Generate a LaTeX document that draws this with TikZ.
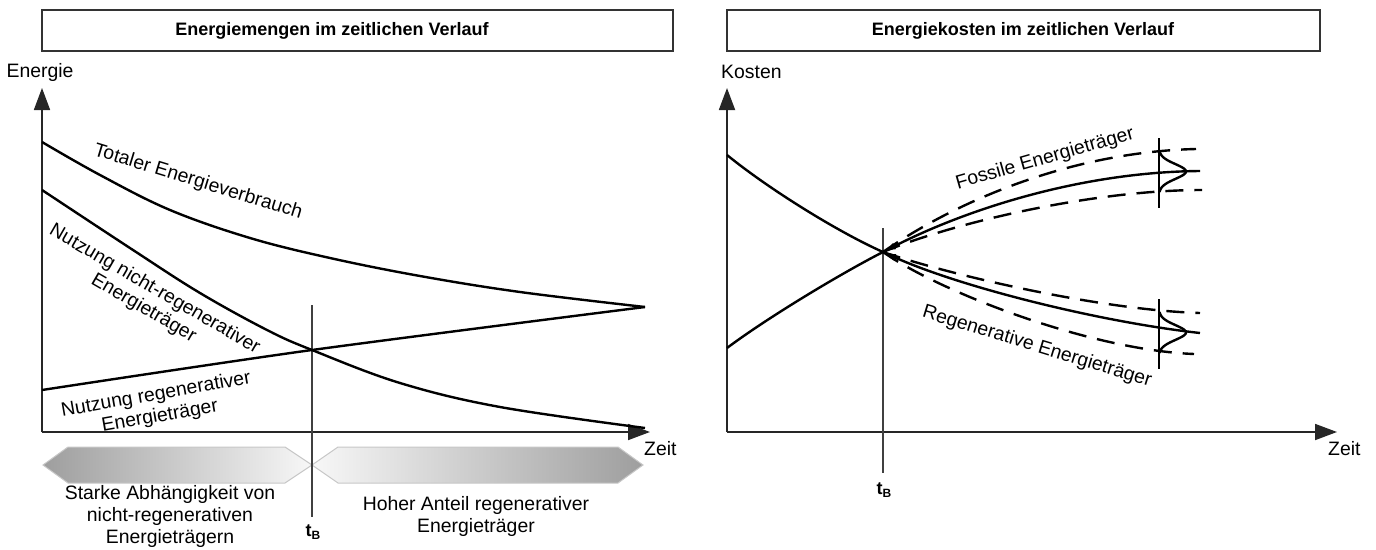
\documentclass[tikz,border=0pt]{standalone}
\usepackage{fontspec}
\setmainfont{Liberation Sans}
\usetikzlibrary{arrows.meta}
\begin{document}
\begin{tikzpicture}[x=1pt,y=-1pt,
  every node/.style={font=\fontsize{19.4}{22}\selectfont, inner sep=0pt},
  axis/.style={draw=black!85, line width=1.8pt, -{Triangle[length=22pt,width=16pt]}},
  curve/.style={draw=black, line width=2.4pt},
  dcurve/.style={curve, dash pattern=on 18pt off 11pt},
  tline/.style={draw=black!75, line width=1.5pt},
  titlebox/.style={draw=black!80, line width=1.5pt, fill=white},
  titletext/.style={font=\fontsize{18}{22}\selectfont\bfseries},
  lbl/.style={align=center},
  band/.style={draw=black!22, line width=1pt},
  tb/.style={font=\fontsize{18}{22}\selectfont\bfseries},
]
\useasboundingbox (0,0) rectangle (1376,549);

% ---------- left panel: energy amounts ----------
\draw[titlebox] (42,10) rectangle (673,51);
\node[titletext] (titleL) at (332,31) {Energiemengen im zeitlichen Verlauf};
\node (energie) at (40,72) {Energie};

\coordinate (oL) at (42,432);
\coordinate (yL) at (42,88);
\coordinate (xL) at (650,432);
\draw[axis] (oL) -- (yL);
\draw[axis] (oL) -- (xL);
\node[anchor=west] (zeitL) at (644,449) {Zeit};

% band arrows below the time axis
\path[band, left color=black!38, right color=black!3]
  (43,465) -- (68,447) -- (285,447) -- (312,465) -- (285,483) -- (68,483) -- cycle;
\path[band, left color=black!3, right color=black!38]
  (312,465) -- (338,447) -- (618,447) -- (643,465) -- (618,483) -- (338,483) -- cycle;

% t_B marker
\coordinate (tBtopL) at (312,305);
\coordinate (tBbotL) at (312,517);
\draw[tline] (tBtopL) -- (tBbotL);
\node[tb] (tBL) at (313,532) {t\raisebox{-0.35ex}{\fontsize{12}{12}\selectfont B}};

% curves
\draw[curve] plot[smooth, tension=0.6] coordinates
  {(42,142) (100,175) (170,210) (250,238) (330,258) (420,276) (520,292) (645,307)};
\draw[curve] plot[smooth, tension=0.6] coordinates
  {(42,190) (133,250) (200,293) (267,330) (312,350) (400,383) (500,407) (645,428)};
\draw[curve] plot[smooth, tension=0.5] coordinates
  {(42,390) (312,350) (645,307)};

\node[rotate=-17] (total) at (198,182) {Totaler Energieverbrauch};
\node[lbl, rotate=-30] (nonreg) at (149,299) {Nutzung nicht-regenerativer\\Energieträger};
\node[lbl, rotate=10] (reg) at (158,406) {Nutzung regenerativer\\Energieträger};

\node[lbl] (starke) at (170,516) {Starke Abhängigkeit von\\nicht-regenerativen\\Energieträgern};
\node[lbl] (hoher) at (476,516) {Hoher Anteil regenerativer\\Energieträger};

% ---------- right panel: energy costs ----------
\draw[titlebox] (727,10) rectangle (1320,51);
\node[titletext] (titleR) at (1023,31) {Energiekosten im zeitlichen Verlauf};
\node[anchor=west] (kosten) at (721,72) {Kosten};

\coordinate (oR) at (727,432);
\coordinate (yR) at (727,88);
\coordinate (xR) at (1337,432);
\draw[axis] (oR) -- (yR);
\draw[axis] (oR) -- (xR);
\node[anchor=west] (zeitR) at (1328,449) {Zeit};

\coordinate (tBtopR) at (883,228);
\coordinate (tBbotR) at (883,473);
\draw[tline] (tBtopR) -- (tBbotR);
\node[tb] (tBR) at (884,490) {t\raisebox{-0.35ex}{\fontsize{12}{12}\selectfont B}};

\coordinate (c) at (883,252);
% costs up to t_B
\draw[curve] (727,155) .. controls (770,190) and (840,233) .. (c);
\draw[curve] (727,348) .. controls (767,318) and (840,274) .. (c);

% fossil fuels: expected path and band
\draw[curve, {Latex[length=13pt,width=7pt]}-] (c) .. controls (965,210) and (1080,172) .. (1200,171);
\draw[dcurve] (c) .. controls (955,202) and (1070,152) .. (1196,149);
\draw[dcurve] (c) .. controls (950,224) and (1090,190) .. (1202,190);
\draw[curve] (1159,138) -- (1159,208);
\draw[curve] plot[domain=151:192, samples=40]
  ({1159+27*exp(-(\x-171.5)*(\x-171.5)/110)}, \x);

% renewable fuels: expected path and band
\draw[curve, {Latex[length=13pt,width=7pt]}-] (c) .. controls (960,287) and (1100,322) .. (1200,333);
\draw[dcurve] (c) .. controls (950,275) and (1100,310) .. (1200,313);
\draw[dcurve] (c) .. controls (940,292) and (1090,350) .. (1194,354);
\draw[curve] (1159,299) -- (1159,369);
\draw[curve] plot[domain=312:353, samples=40]
  ({1159+27*exp(-(\x-332.5)*(\x-332.5)/110)}, \x);

\node[rotate=16] (fossil) at (1045,159) {Fossile Energieträger};
\node[rotate=-17] (regen) at (1037,347) {Regenerative Energieträger};
\end{tikzpicture}
\end{document}
